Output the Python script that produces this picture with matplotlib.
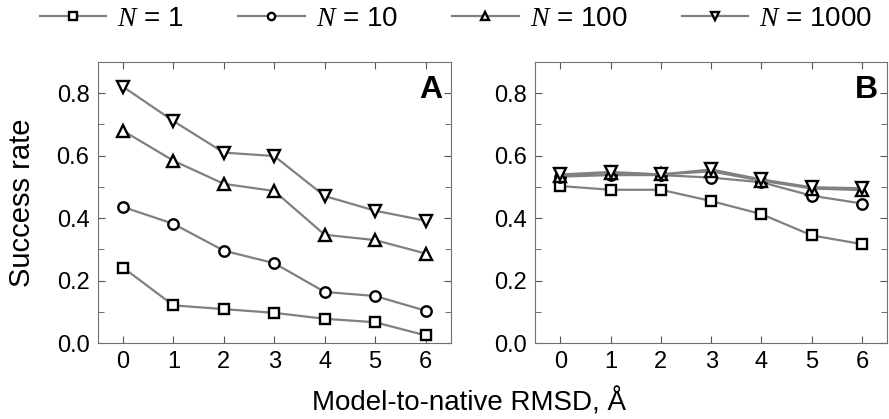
import matplotlib.pyplot as plt

plt.rcParams['font.family'] = ['Liberation Sans', 'DejaVu Sans']
plt.rcParams['mathtext.fontset'] = 'custom'
plt.rcParams['mathtext.it'] = 'Liberation Serif:italic'

rmsd = [0, 1, 2, 3, 4, 5, 6]
labels = ["$N$ = 1", "$N$ = 10", "$N$ = 100", "$N$ = 1000"]
markers = ['s', 'o', '^', 'v']

# panel A
a_n1 = [0.242, 0.121, 0.109, 0.097, 0.078, 0.067, 0.025]
a_n10 = [0.436, 0.382, 0.296, 0.256, 0.164, 0.151, 0.104]
a_n100 = [0.680, 0.584, 0.510, 0.487, 0.347, 0.330, 0.287]
a_n1000 = [0.821, 0.711, 0.610, 0.599, 0.471, 0.424, 0.392]

# panel B
b_n1 = [0.503, 0.491, 0.491, 0.455, 0.413, 0.345, 0.317]
b_n10 = [0.533, 0.538, 0.538, 0.530, 0.515, 0.472, 0.447]
b_n100 = [0.536, 0.545, 0.540, 0.550, 0.520, 0.495, 0.490]
b_n1000 = [0.540, 0.548, 0.540, 0.556, 0.524, 0.499, 0.496]

panels = [("A", [a_n1, a_n10, a_n100, a_n1000]),
          ("B", [b_n1, b_n10, b_n100, b_n1000])]

fig = plt.figure(figsize=(8.89, 4.19), dpi=100)
ax_a = fig.add_axes([0.110, 0.181, 0.397, 0.671])
ax_b = fig.add_axes([0.602, 0.181, 0.396, 0.671])

for ax, (tag, series) in zip([ax_a, ax_b], panels):
    for ys, mk, lab in zip(series, markers, labels):
        ax.plot(rmsd, ys, color='#808080', linewidth=1.6, marker=mk,
                markersize=8.5 if mk in '^v' else 7.5, markerfacecolor='white',
                markeredgecolor='black', markeredgewidth=1.7, label=lab)
    ax.set_xlim(-0.5, 6.5)
    ax.set_ylim(0, 0.9)
    ax.set_xticks(rmsd)
    ax.set_yticks([0.0, 0.2, 0.4, 0.6, 0.8])
    ax.set_yticks([0.1, 0.3, 0.5, 0.7], minor=True)
    ax.set_yticklabels(["0.0", "0.2", "0.4", "0.6", "0.8"])
    ax.tick_params(direction='in', top=True, right=True, length=5,
                   labelsize=17, color='#555555', pad=6)
    ax.tick_params(which='minor', direction='in', right=True, length=4,
                   color='#555555')
    for sp in ax.spines.values():
        sp.set_color('#707070')
    ax.text(0.975, 0.955, tag, transform=ax.transAxes, ha='right', va='top',
            fontsize=23, fontweight='bold')

fig.text(0.025, 0.515, "Success rate", rotation=90, ha='center', va='center',
         fontsize=21)
fig.text(0.528, 0.04, "Model-to-native RMSD, Å", ha='center', va='center',
         fontsize=20)

handles, labs = ax_a.get_legend_handles_labels()
fig.legend(handles, labs, ncol=4, loc='upper center',
           bbox_to_anchor=(0.513, 1.045), frameon=False, fontsize=20,
           handlelength=2.4, columnspacing=1.95, markerscale=0.7,
           handletextpad=0.4)

plt.savefig("out.png", dpi=100)
